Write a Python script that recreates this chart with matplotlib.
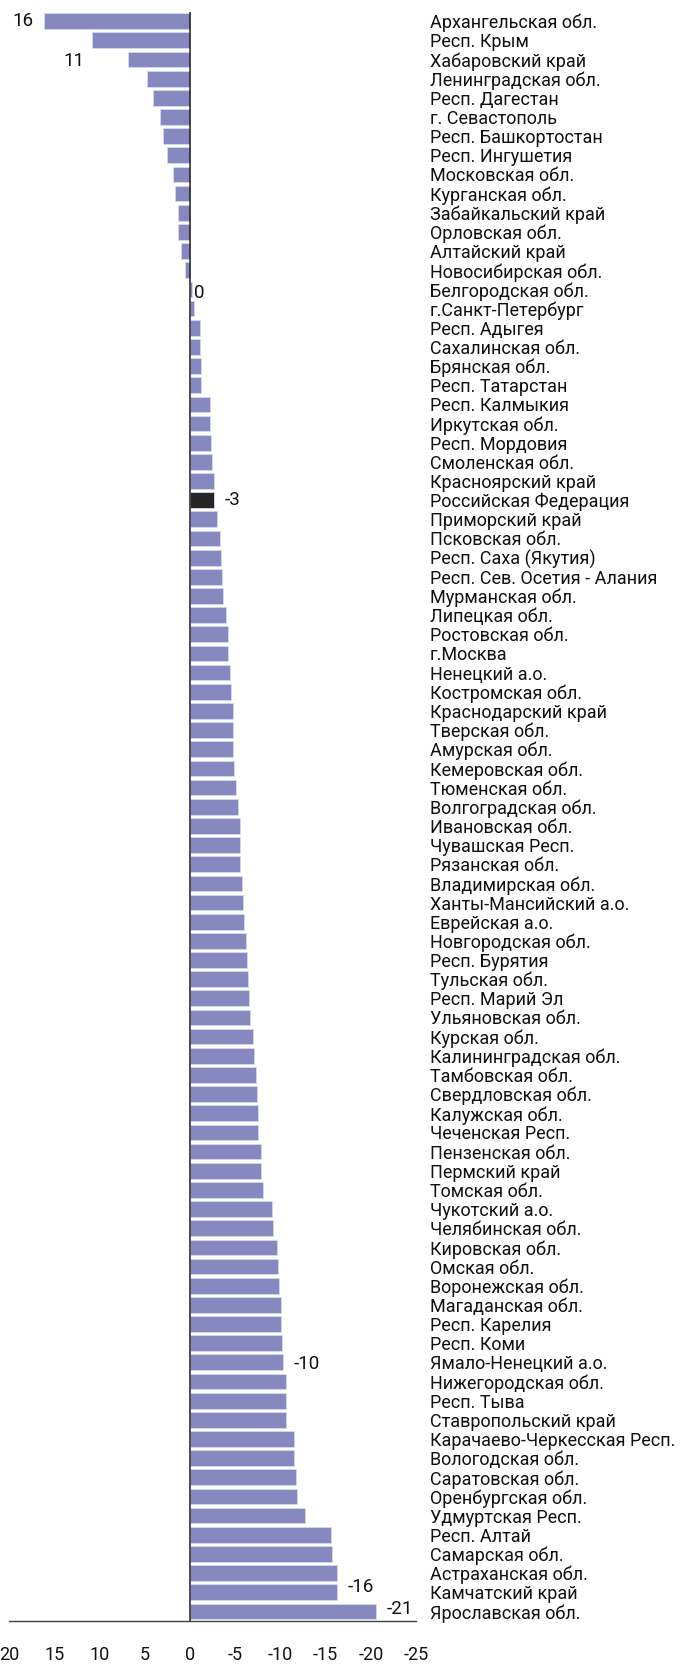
import matplotlib
matplotlib.use("Agg")
import matplotlib.pyplot as plt

# regions, top to bottom, and the change values
regions = [
    "Архангельская обл.", "Респ. Крым", "Хабаровский край", "Ленинградская обл.",
    "Респ. Дагестан", "г. Севастополь", "Респ. Башкортостан", "Респ. Ингушетия",
    "Московская обл.", "Курганская обл.", "Забайкальский край", "Орловская обл.",
    "Алтайский край", "Новосибирская обл.", "Белгородская обл.", "г.Санкт-Петербург",
    "Респ. Адыгея", "Сахалинская обл.", "Брянская обл.", "Респ. Татарстан",
    "Респ. Калмыкия", "Иркутская обл.", "Респ. Мордовия", "Смоленская обл.",
    "Красноярский край", "Российская Федерация", "Приморский край", "Псковская обл.",
    "Респ. Саха (Якутия)", "Респ. Сев. Осетия - Алания", "Мурманская обл.", "Липецкая обл.",
    "Ростовская обл.", "г.Москва", "Ненецкий а.о.", "Костромская обл.",
    "Краснодарский край", "Тверская обл.", "Амурская обл.", "Кемеровская обл.",
    "Тюменская обл.", "Волгоградская обл.", "Ивановская обл.", "Чувашская Респ.",
    "Рязанская обл.", "Владимирская обл.", "Ханты-Мансийский а.о.", "Еврейская а.о.",
    "Новгородская обл.", "Респ. Бурятия", "Тульская обл.", "Респ. Марий Эл",
    "Ульяновская обл.", "Курская обл.", "Калининградская обл.", "Тамбовская обл.",
    "Свердловская обл.", "Калужская обл.", "Чеченская Респ.", "Пензенская обл.",
    "Пермский край", "Томская обл.", "Чукотский а.о.", "Челябинская обл.",
    "Кировская обл.", "Омская обл.", "Воронежская обл.", "Магаданская обл.",
    "Респ. Карелия", "Респ. Коми", "Ямало-Ненецкий а.о.", "Нижегородская обл.",
    "Респ. Тыва", "Ставропольский край", "Карачаево-Черкесская Респ.", "Вологодская обл.",
    "Саратовская обл.", "Оренбургская обл.", "Удмуртская Респ.", "Респ. Алтай",
    "Самарская обл.", "Астраханская обл.", "Камчатский край", "Ярославская обл.",
]

values = [
    16.1, 10.8, 6.9, 4.8, 4.1, 3.3, 3.0, 2.5,
    1.85, 1.7, 1.36, 1.29, 1.03, 0.52, -0.19, -0.48,
    -1.1, -1.1, -1.18, -1.18, -2.21, -2.25, -2.32, -2.47,
    -2.65, -2.69, -2.95, -3.35, -3.46, -3.57, -3.65, -4.02,
    -4.17, -4.24, -4.46, -4.54, -4.72, -4.76, -4.79, -4.9,
    -5.09, -5.28, -5.5, -5.5, -5.53, -5.72, -5.9, -5.94,
    -6.16, -6.31, -6.45, -6.49, -6.6, -6.97, -7.11, -7.33,
    -7.38, -7.52, -7.56, -7.82, -7.85, -8.08, -9.04, -9.21,
    -9.62, -9.7, -9.88, -10.03, -10.1, -10.14, -10.32, -10.62,
    -10.65, -10.65, -11.54, -11.54, -11.76, -11.8, -12.72, -15.63,
    -15.74, -16.23, -16.26, -20.58,
]

# which bars carry a value label, the nudge in rows and the gap in points
label_rows = [0, 1, 14, 25, 70, 82, 83]
label_texts = ["16", "11", "0", "-3", "-10", "-16", "-21"]
label_shift = [0.0, 1.1, 0.2, 0.0, 0.1, -0.25, -0.12]
label_gap = [8, 5.5, 1.5, 7.5, 7.5, 7.5, 7.5]

x_ticks = [20, 15, 10, 5, 0, -5, -10, -15, -20, -25]

BAR = "#8589c0"
HIGHLIGHT = "#262626"
FONT = ["Roboto", "DejaVu Sans"]

plt.rcParams["font.family"] = FONT

fig = plt.figure(figsize=(6.83, 16.64), dpi=100)
ax = fig.add_axes([0.01347, 0.02584, 0.59561, 0.96719])

ypos = list(range(len(regions)))
colors = [HIGHLIGHT if r == "Российская Федерация" else BAR for r in regions]
ax.barh(ypos, values, height=0.82, color=colors, edgecolor="#d6d8ee", linewidth=0.6)

# x axis runs from positive on the left to negative on the right
ax.set_xlim(20, -25)
ax.set_ylim(len(regions) - 0.5, -0.5)

ax.axvline(0, color="#202020", linewidth=1.1)

for s in ["top", "right", "left"]:
    ax.spines[s].set_visible(False)
ax.spines["bottom"].set_color("#404040")
ax.spines["bottom"].set_linewidth(1.0)

ax.set_xticks(x_ticks)
ax.set_xticklabels([str(t) for t in x_ticks], fontsize=13, color="#111111")
ax.tick_params(axis="x", length=0, pad=18)

ax.yaxis.tick_right()
ax.set_yticks(ypos)
ax.set_yticklabels(regions, fontsize=13, color="#111111")
ax.tick_params(axis="y", length=0, pad=10)

for row, txt, dy, gap in zip(label_rows, label_texts, label_shift, label_gap):
    v = values[row]
    # inverted x: bigger values sit to the left, so push those labels leftwards
    if v > 0:
        off, ha = -gap, "right"
    else:
        off, ha = gap, "left"
    ax.annotate(txt, (v, row + dy), xytext=(off, 0), textcoords="offset points",
                ha=ha, va="center", fontsize=13.5, color="#111111")

fig.savefig("out.png", dpi=100)
